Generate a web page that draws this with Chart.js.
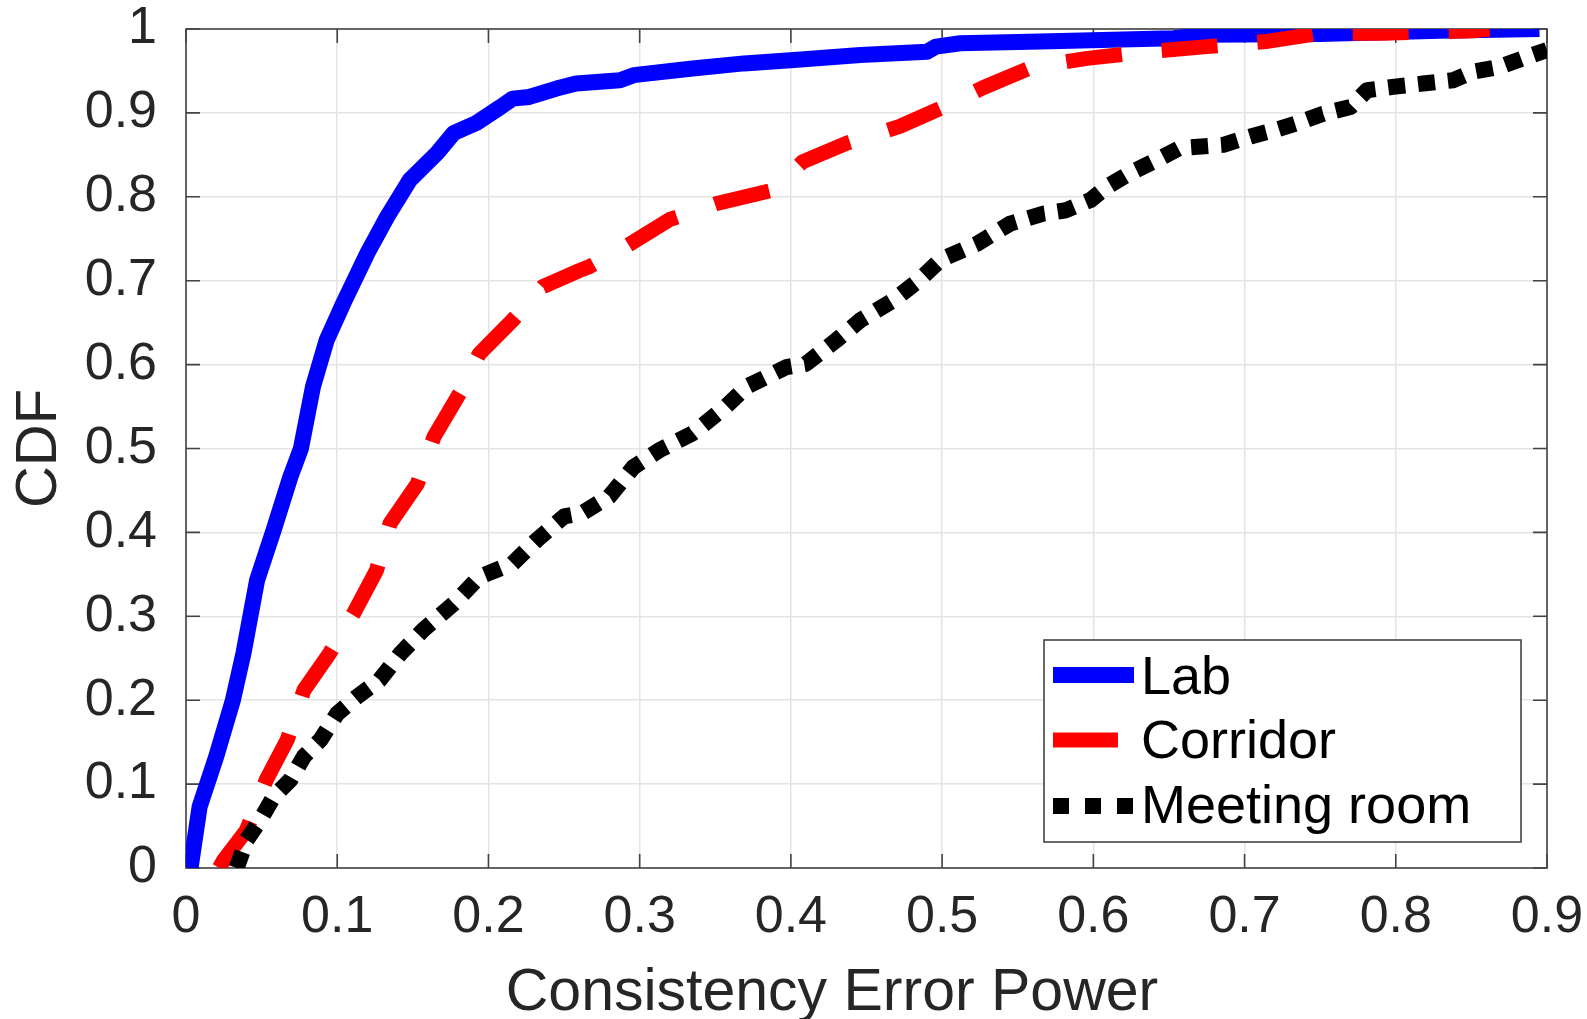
<!DOCTYPE html>
<html>
<head>
<meta charset="utf-8">
<script src="https://cdn.jsdelivr.net/npm/chart.js@4.4.1/dist/chart.umd.min.js"></script>
<style>
  html, body { margin: 0; padding: 0; background: #ffffff; }
  #c { display: block; }
</style>
</head>
<body>
<canvas id="c" width="1587" height="1019"></canvas>
<script>
// ---------- data ----------
const seriesNames = ["Lab", "Corridor", "Meeting room"];

const labX = [0.003,0.009,0.020,0.031,0.038,0.047,0.058,0.069,0.076,0.084,0.093,0.104,0.120,0.133,0.148,0.166,0.177,0.192,0.208,0.216,0.227,0.245,0.258,0.287,0.296,0.335,0.369,0.402,0.446,0.490,0.496,0.512,0.565,0.653,0.675,0.750,0.829,0.895];
const labY = [0,0.073,0.133,0.200,0.256,0.343,0.403,0.466,0.500,0.574,0.629,0.673,0.733,0.776,0.820,0.852,0.876,0.888,0.907,0.917,0.919,0.929,0.935,0.939,0.945,0.953,0.959,0.963,0.969,0.973,0.979,0.983,0.985,0.989,0.993,0.994,0.998,1.000];

const corX = [0.022,0.025,0.040,0.053,0.067,0.078,0.095,0.111,0.126,0.135,0.153,0.164,0.181,0.194,0.216,0.236,0.260,0.267,0.291,0.320,0.351,0.388,0.408,0.437,0.472,0.501,0.527,0.560,0.596,0.636,0.675,0.714,0.750,0.790,0.834,0.851,0.862];
const corY = [0,0.0095,0.045,0.105,0.153,0.212,0.256,0.304,0.355,0.411,0.458,0.514,0.566,0.613,0.653,0.693,0.712,0.717,0.741,0.773,0.792,0.808,0.842,0.864,0.884,0.907,0.930,0.955,0.965,0.973,0.979,0.985,0.995,0.995,0.997,0.998,1.000];

const meetX = [0.0335,0.040,0.049,0.058,0.069,0.078,0.089,0.100,0.113,0.128,0.142,0.157,0.177,0.194,0.216,0.232,0.250,0.262,0.280,0.296,0.313,0.335,0.357,0.371,0.397,0.410,0.430,0.446,0.468,0.485,0.499,0.523,0.545,0.567,0.582,0.598,0.609,0.624,0.642,0.657,0.686,0.704,0.721,0.737,0.752,0.770,0.781,0.798,0.818,0.838,0.851,0.869,0.884,0.900];
const meetY = [0,0.033,0.057,0.085,0.105,0.133,0.153,0.184,0.204,0.224,0.256,0.284,0.315,0.347,0.363,0.391,0.419,0.423,0.443,0.478,0.498,0.518,0.550,0.574,0.597,0.601,0.629,0.653,0.677,0.701,0.725,0.744,0.768,0.780,0.784,0.796,0.812,0.828,0.844,0.858,0.862,0.872,0.880,0.889,0.899,0.907,0.927,0.931,0.935,0.939,0.949,0.955,0.965,0.975];

const xTickLabels = ["0","0.1","0.2","0.3","0.4","0.5","0.6","0.7","0.8","0.9"];
const yTickLabels = ["0","0.1","0.2","0.3","0.4","0.5","0.6","0.7","0.8","0.9","1"];
const xTitle = "Consistency Error Power";
const yTitle = "CDF";

// ---------- styles ----------
const FONT = "'Liberation Sans', Arial, Helvetica, sans-serif";
const TXT = "#262626";
const AXIS = "#444444";
const colors = ["#0000ff", "#ff0000", "#000000"];
const widths = [16, 15, 16];
const dashes = [[], [56, 40], [17, 13]];

function pts(xs, ys) { return xs.map((x, i) => ({ x: x, y: ys[i] })); }

// frame, inward ticks
const framePlugin = {
  id: 'frame',
  beforeDatasetsDraw(chart) {
    const { ctx, chartArea: a, scales } = chart;
    ctx.save();
    ctx.strokeStyle = AXIS;
    ctx.lineWidth = 1.6;
    const tl = 14;
    ctx.beginPath();
    scales.x.ticks.forEach(t => {
      const px = scales.x.getPixelForValue(t.value);
      ctx.moveTo(px, a.bottom); ctx.lineTo(px, a.bottom - tl);
      ctx.moveTo(px, a.top); ctx.lineTo(px, a.top + tl);
    });
    scales.y.ticks.forEach(t => {
      const py = scales.y.getPixelForValue(t.value);
      ctx.moveTo(a.left, py); ctx.lineTo(a.left + tl, py);
      ctx.moveTo(a.right, py); ctx.lineTo(a.right - tl, py);
    });
    ctx.stroke();
    ctx.strokeRect(a.left, a.top, a.right - a.left, a.bottom - a.top);
    ctx.restore();
  },
  afterDraw(chart) {
    // x-axis title (placed as in the reference, slightly left of the axis centre)
    const { ctx } = chart;
    ctx.save();
    ctx.fillStyle = TXT;
    ctx.font = "59px " + FONT;
    ctx.textAlign = 'center';
    ctx.textBaseline = 'alphabetic';
    ctx.fillText(xTitle, 832, 1010);
    ctx.restore();
  }
};

// legend box inside the plot (lower right)
const legendPlugin = {
  id: 'boxLegend',
  afterDraw(chart) {
    const { ctx } = chart;
    const bx = 1044, by = 640, bw = 477, bh = 202;
    ctx.save();
    ctx.fillStyle = '#ffffff';
    ctx.fillRect(bx, by, bw, bh);
    ctx.strokeStyle = AXIS;
    ctx.lineWidth = 1.6;
    ctx.strokeRect(bx, by, bw, bh);
    const rowsY = [675, 740, 806];
    const textY = [694, 758, 823];
    const sampleLen = [81, 65, 81];
    chart.data.datasets.forEach((ds, i) => {
      ctx.strokeStyle = ds.borderColor;
      ctx.lineWidth = ds.borderWidth;
      ctx.lineCap = 'butt';
      if (i === 2) ctx.setLineDash([16, 16]); else ctx.setLineDash([]);
      ctx.beginPath();
      ctx.moveTo(1053, rowsY[i]);
      ctx.lineTo(1053 + sampleLen[i], rowsY[i]);
      ctx.stroke();
      ctx.setLineDash([]);
      ctx.fillStyle = '#000000';
      ctx.font = "54px " + FONT;
      ctx.textBaseline = 'alphabetic';
      ctx.textAlign = 'left';
      ctx.fillText(ds.label, 1141, textY[i]);
    });
    ctx.restore();
  }
};

const ctx = document.getElementById('c').getContext('2d');
new Chart(ctx, {
  type: 'line',
  data: {
    datasets: [
      { label: seriesNames[0], data: pts(labX, labY), borderColor: colors[0], borderWidth: widths[0], borderDash: dashes[0], order: 2 },
      { label: seriesNames[1], data: pts(corX, corY), borderColor: colors[1], borderWidth: widths[1], borderDash: dashes[1], order: 1 },
      { label: seriesNames[2], data: pts(meetX, meetY), borderColor: colors[2], borderWidth: widths[2], borderDash: dashes[2], order: 0 }
    ]
  },
  options: {
    responsive: false,
    animation: false,
    devicePixelRatio: 1,
    layout: { padding: { left: 0, right: 40, top: 29, bottom: 0 } },
    plugins: { legend: { display: false }, tooltip: { enabled: false } },
    elements: {
      point: { radius: 0, hoverRadius: 0 },
      line: { tension: 0, fill: false, borderCapStyle: 'butt', borderJoinStyle: 'round' }
    },
    scales: {
      x: {
        type: 'linear', min: 0, max: 0.9,
        afterFit: s => { s.height = 151; s.paddingLeft = 0; s.paddingRight = 0; },
        ticks: {
          stepSize: 0.1, autoSkip: false, maxRotation: 0, minRotation: 0,
          padding: 18, color: TXT, font: { family: FONT, size: 52 },
          callback: (v, i) => xTickLabels[i]
        },
        grid: { color: '#e4e4e4', lineWidth: 1.5, drawTicks: false },
        border: { display: false },
        title: { display: false }
      },
      y: {
        type: 'linear', min: 0, max: 1,
        afterFit: s => { s.width = 186; s.paddingTop = 0; s.paddingBottom = 0; },
        ticks: {
          stepSize: 0.1, autoSkip: false,
          padding: 29, color: TXT, font: { family: FONT, size: 52 },
          callback: (v, i) => yTickLabels[i]
        },
        grid: { color: '#e4e4e4', lineWidth: 1.5, drawTicks: false },
        border: { display: false },
        title: { display: true, text: yTitle, color: TXT, font: { family: FONT, size: 58, lineHeight: 1 }, padding: { top: 11, bottom: 0 } }
      }
    }
  },
  plugins: [framePlugin, legendPlugin]
});
</script>
</body>
</html>
